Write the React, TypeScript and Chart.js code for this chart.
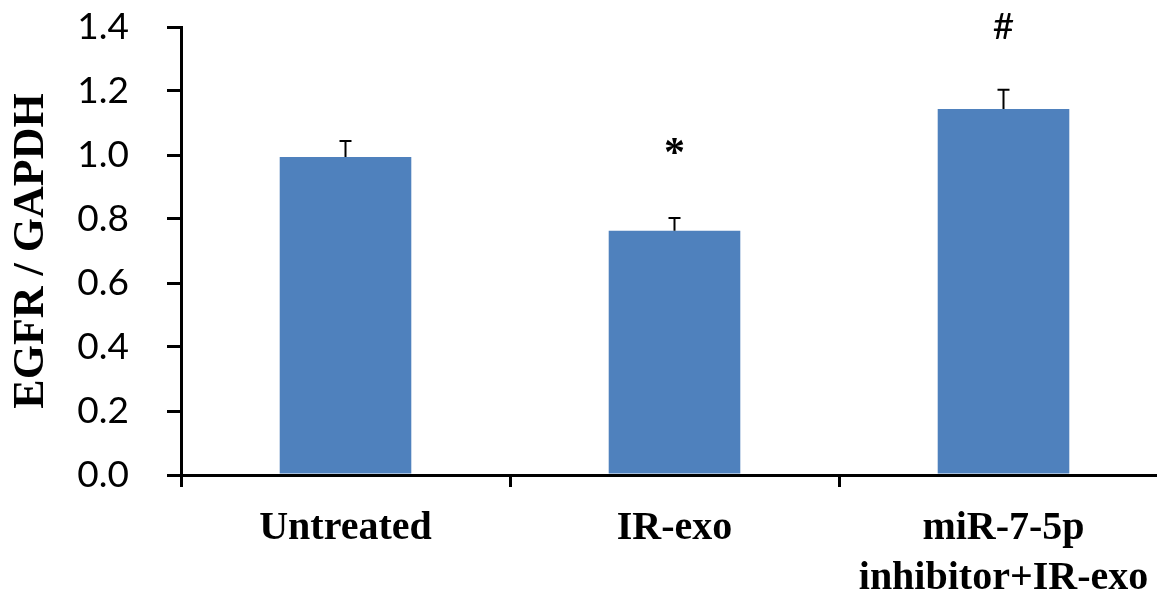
import React, { useEffect, useRef } from "react";
import { Chart, registerables } from "chart.js";

Chart.register(...registerables);

const categories: (string | string[])[] = ["Untreated", "IR-exo", ["miR-7-5p", "inhibitor+IR-exo"]];
const values: number[] = [0.994, 0.763, 1.144];
const errors: number[] = [0.05, 0.04, 0.06];
const marks: string[] = ["", "*", "#"];
const markValues: number[] = [0, 1.0, 1.4];
const markFonts: string[] = ["", "bold 42px 'Liberation Serif'", "37px Lato"];
const yTicks: number[] = [0, 0.2, 0.4, 0.6, 0.8, 1.0, 1.2, 1.4];

const extras = {
  id: "extras",
  afterDatasetsDraw(chart: any) {
    const ctx = chart.ctx;
    const meta = chart.getDatasetMeta(0);
    const y = chart.scales.y;
    ctx.save();
    ctx.strokeStyle = "#000";
    ctx.lineWidth = 2;
    meta.data.forEach((bar: any, i: number) => {
      const x = bar.x;
      const y0 = y.getPixelForValue(values[i]);
      const y1 = y.getPixelForValue(values[i] + errors[i]);
      ctx.beginPath();
      ctx.moveTo(x, y0);
      ctx.lineTo(x, y1);
      ctx.moveTo(x - 6, y1);
      ctx.lineTo(x + 6, y1);
      ctx.stroke();
      if (marks[i]) {
        ctx.fillStyle = "#000";
        ctx.font = markFonts[i];
        ctx.textAlign = "center";
        ctx.textBaseline = "middle";
        ctx.fillText(marks[i], x, y.getPixelForValue(markValues[i]));
      }
    });
    ctx.restore();
  },
};

export default function App() {
  const ref = useRef<HTMLCanvasElement>(null);
  useEffect(() => {
    if (!ref.current) return;
    const chart = new Chart(ref.current, {
      type: "bar",
      data: {
        labels: categories,
        datasets: [
          {
            data: values,
            backgroundColor: "#4F81BD",
            borderWidth: 0,
            barPercentage: 0.4,
            categoryPercentage: 1,
          },
        ],
      },
      plugins: [extras],
      options: {
        animation: false,
        responsive: false,
        devicePixelRatio: 1,
        layout: { padding: { left: 0, top: 27, right: 12, bottom: 0 } },
        plugins: { legend: { display: false }, tooltip: { enabled: false } },
        scales: {
          x: {
            offset: true,
            grid: {
              offset: true,
              drawOnChartArea: false,
              drawTicks: true,
              tickLength: 12,
              color: "#000",
              lineWidth: 3,
            },
            border: { color: "#000", width: 3 },
            ticks: {
              color: "#000",
              padding: 17,
              maxRotation: 0,
              autoSkip: false,
              font: { family: "'Liberation Serif'", weight: "bold", size: 40, lineHeight: 1.25 },
            },
            afterFit: (s: any) => {
              s.height = 118;
              s.paddingLeft = 0;
              s.paddingRight = 0;
              s.paddingTop = 0;
              s.paddingBottom = 0;
            },
          },
          y: {
            min: 0,
            max: 1.4,
            afterBuildTicks: (s: any) => {
              s.ticks = yTicks.map((v) => ({ value: v }));
            },
            grid: {
              drawOnChartArea: false,
              drawTicks: true,
              tickLength: 14,
              color: "#000",
              lineWidth: 3,
            },
            border: { color: "#000", width: 3 },
            ticks: {
              color: "#000",
              padding: 38,
              font: { family: "Lato", size: 37 },
              callback: (v: any) => Number(v).toFixed(1),
            },
            title: {
              display: true,
              text: "EGFR / GAPDH",
              color: "#000",
              font: { family: "'Liberation Serif'", weight: "bold", size: 44, lineHeight: 1.2 },
              padding: { top: 5, bottom: 0 },
            },
            afterFit: (s: any) => {
              s.width = 181;
              s.paddingLeft = 0;
              s.paddingRight = 0;
              s.paddingTop = 0;
              s.paddingBottom = 0;
            },
          },
        },
      },
    });
    return () => chart.destroy();
  }, []);
  return (
    <div
      style={{
        position: "fixed",
        left: 0,
        top: 0,
        width: 1157,
        height: 593,
        overflow: "hidden",
        background: "#fff",
      }}
    >
      <canvas ref={ref} width={1180} height={593} style={{ display: "block", width: 1180, height: 593 }} />
    </div>
  );
}
